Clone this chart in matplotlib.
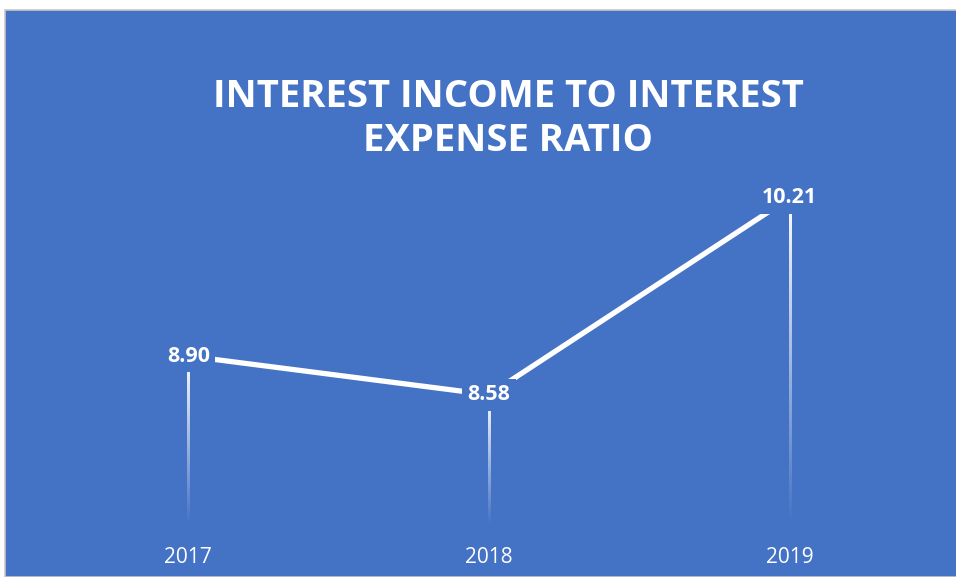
import matplotlib.pyplot as plt
import numpy as np
from matplotlib.patches import Rectangle

years = ["2017", "2018", "2019"]
ratio = [8.90, 8.58, 10.21]
title = "INTEREST INCOME TO INTEREST\nEXPENSE RATIO"

blue = "#4472C4"
W, H = 956, 577

fig = plt.figure(figsize=(W / 100, H / 100), dpi=100, facecolor="white")
# chart area background with thin grey border, like the Excel frame
fig.patches.append(Rectangle((4.5 / W, 0), 1, (H - 9.5) / H, transform=fig.transFigure,
                             facecolor=blue, edgecolor="#c8c8c8", linewidth=1.2, zorder=-5))

ax = fig.add_axes([38 / W, (H - 525) / H, 902 / W, 362 / H])
ax.set_zorder(2)
ax.set_facecolor("none")
x = np.arange(len(years))
ax.set_xlim(-0.5, 2.5)
ax.set_ylim(7.5, 10.5)

# fading drop lines (white -> transparent)
grad = np.zeros((100, 1, 4))
grad[..., :3] = 1
grad[:, 0, 3] = np.linspace(1, 0, 100)
half = 1.1 / 300  # about one pixel in data units
for xi, yi in zip(x, ratio):
    ax.imshow(grad, extent=[xi - half, xi + half, 7.5, yi], aspect="auto",
              interpolation="bilinear", zorder=1, origin="upper")
ax.set_xlim(-0.5, 2.5)
ax.set_ylim(7.5, 10.5)

ax.plot(x, ratio, color="white", linewidth=3.8, zorder=2)

for xi, yi in zip(x, ratio):
    ax.text(xi, yi, f"{yi:.2f}", ha="center", va="center", color="white",
            fontsize=15.5, fontweight="bold", family="Open Sans", zorder=3,
            bbox=dict(boxstyle="square,pad=0.25", facecolor=blue, edgecolor="none"))

ax.set_xticks(x)
ax.set_xticklabels(years, fontsize=15, color="white", family="Open Sans")
ax.tick_params(axis="x", length=0, pad=16)
ax.set_yticks([])
for s in ax.spines.values():
    s.set_visible(False)

fig.text(508 / W, 1 - 119 / H, title, ha="center", va="center", color="white",
         fontsize=27.5, fontweight="bold", family="Open Sans", linespacing=1.22)

fig.savefig("out.png", dpi=100, facecolor=fig.get_facecolor())
